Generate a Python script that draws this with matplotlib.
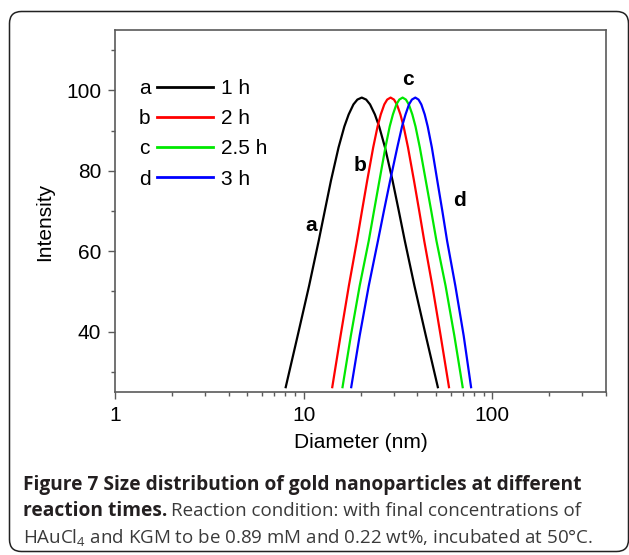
import matplotlib
matplotlib.use('Agg')
import matplotlib.pyplot as plt
from matplotlib.lines import Line2D
from matplotlib.patches import FancyBboxPatch
from matplotlib.transforms import IdentityTransform
from matplotlib.ticker import MultipleLocator, LogLocator, FuncFormatter, NullFormatter

plt.rcParams['font.family'] = ['Liberation Sans', 'DejaVu Sans']
plt.rcParams['mathtext.fontset'] = 'custom'
plt.rcParams['mathtext.rm'] = 'Open Sans'
plt.rcParams['mathtext.default'] = 'rm'

# intensity read along each peak: left flank -> top -> right flank
intensity = [26.2, 39.0, 51.4, 62.6, 70.0, 77.5, 85.8, 91.0, 94.0, 96.5, 97.7, 98.2,
             97.7, 96.5, 94.0, 91.0, 85.8, 77.5, 70.0, 62.6, 51.4, 39.0, 26.2]

# diameters (nm) at those intensities, one list per reaction time
diam_1h = [8.03, 9.29, 10.68, 12.01, 12.93, 13.94, 15.30, 16.42, 17.31, 18.35, 19.25, 20.31,
           21.43, 22.47, 23.84, 25.12, 26.97, 29.59, 31.92, 34.34, 38.62, 44.38, 51.39]
diam_2h = [14.17, 15.68, 17.35, 19.15, 20.36, 21.69, 23.35, 24.63, 25.61, 26.74, 27.70, 28.87,
           30.10, 31.18, 32.55, 33.85, 35.71, 38.43, 40.95, 43.52, 48.06, 53.18, 58.88]
diam_25h = [16.06, 17.78, 19.80, 22.12, 23.58, 25.18, 27.10, 28.56, 29.70, 30.99, 32.11, 33.43,
            34.81, 36.06, 37.64, 39.14, 41.25, 44.38, 47.42, 50.52, 56.48, 62.86, 69.58]
diam_3h = [17.86, 19.80, 22.12, 24.75, 26.61, 28.70, 31.33, 33.19, 34.64, 36.15, 37.45, 39.04,
           40.60, 42.01, 43.79, 45.42, 47.77, 51.07, 54.29, 57.53, 63.63, 70.44, 77.09]

letters = ['a', 'b', 'c', 'd']
times = ['1 h', '2 h', '2.5 h', '3 h']
colors = ['black', '#ff0000', '#00e800', '#0000ff']
# where the curve letters sit (diameter, intensity)
letter_pos = [(10.9, 66.3), (19.9, 81.2), (35.8, 102.8), (66.8, 72.5)]

W, H = 629, 555
fig = plt.figure(figsize=(W / 100, H / 100), dpi=100)
ax = fig.add_axes([115 / W, (H - 392) / H, 491 / W, 362 / H])

lines = []
for d, c in zip([diam_1h, diam_2h, diam_25h, diam_3h], colors):
    ln, = ax.plot(d, intensity, color=c, lw=1.6, solid_joinstyle='round')
    lines.append(ln)

for (x, y), t in zip(letter_pos, letters):
    ax.text(x, y, t, fontsize=15, fontweight='bold', ha='center', va='center')

ax.set_xscale('log')
ax.set_xlim(1, 400)
ax.set_ylim(25, 115)
ax.yaxis.set_major_locator(MultipleLocator(20))
ax.yaxis.set_minor_locator(MultipleLocator(10))
ax.xaxis.set_major_locator(LogLocator(base=10))
ax.xaxis.set_minor_locator(LogLocator(base=10, subs=range(2, 10)))
ax.xaxis.set_major_formatter(FuncFormatter(lambda v, p: f'{v:g}'))
ax.xaxis.set_minor_formatter(NullFormatter())

spine_c = '#5a5a5a'
for s in ax.spines.values():
    s.set_color(spine_c)
    s.set_linewidth(1.2)
ax.tick_params(which='both', direction='out', color=spine_c, width=1.0,
               labelsize=15, top=False, right=False)
ax.tick_params(which='major', length=5, pad=5)
ax.tick_params(which='minor', length=3)

ax.set_xlabel('Diameter (nm)', fontsize=15)
ax.set_ylabel('Intensity', fontsize=15)
ax.xaxis.set_label_coords(0.5, -(443 - 392) / 362, transform=ax.transAxes)
ax.xaxis.label.set_va('center')
ax.yaxis.set_label_coords(-(115 - 45) / 491, (392 - 222) / 362, transform=ax.transAxes)
ax.yaxis.label.set_va('center')

# legend: letters on the left, line samples + times on the right
leg_top = 1 - 79 / H
leg1 = ax.legend(lines, times, loc='upper left', bbox_to_anchor=(157 / W, leg_top),
                 bbox_transform=fig.transFigure, frameon=False, fontsize=15,
                 handlelength=2.7, handletextpad=0.35, labelspacing=0.54,
                 borderpad=0, borderaxespad=0)
for h in leg1.legend_handles:
    h.set_linewidth(2.0)
ax.add_artist(leg1)
blank = [Line2D([], [], alpha=0) for _ in letters]
ax.legend(blank, letters, loc='upper left', bbox_to_anchor=(139 / W, leg_top),
          bbox_transform=fig.transFigure, frameon=False, fontsize=15,
          handlelength=0, handletextpad=0, labelspacing=0.54,
          borderpad=0, borderaxespad=0)

# outer rounded frame
frame = FancyBboxPatch((9.5, 3.5), 619, 540, boxstyle='round,pad=0,rounding_size=12',
                       transform=IdentityTransform(), fill=False, lw=1.1, ec='#222222')
fig.patches.append(frame)

# caption
cap_c = '#231f20'
txt_c = '#3a3a3a'
cap_x = 23 / W
r = fig.canvas.get_renderer()
t1 = fig.text(cap_x, 1 - 490 / H, 'Figure 7 Size distribution of gold nanoparticles at different',
              fontfamily='Open Sans', fontweight='bold', fontsize=13, color=cap_c, va='baseline')
t1.set_fontsize(13 * 551 / t1.get_window_extent(r).width)
fs = t1.get_fontsize()
t2 = fig.text(cap_x, 1 - 516.5 / H, 'reaction times.', fontfamily='Open Sans', fontweight='bold',
              fontsize=fs, color=cap_c, va='baseline')
t4 = fig.text(cap_x, 1 - 543 / H, 'HAuCl$_4$ and KGM to be 0.89 mM and 0.22 wt%, incubated at 50\u00b0C.',
              fontfamily='Open Sans', fontsize=fs, color=txt_c, va='baseline')
t4.set_fontsize(fs * 570 / t4.get_window_extent(r).width)
fs2 = t4.get_fontsize()
x2 = t2.get_window_extent(r).x1 + 0.28 * fs2
t3 = fig.text(x2 / W, 1 - 516.5 / H, 'Reaction condition: with final concentrations of',
              fontfamily='Open Sans', fontsize=fs2, color=txt_c, va='baseline')

fig.savefig('out.png', dpi=100, facecolor='white')
